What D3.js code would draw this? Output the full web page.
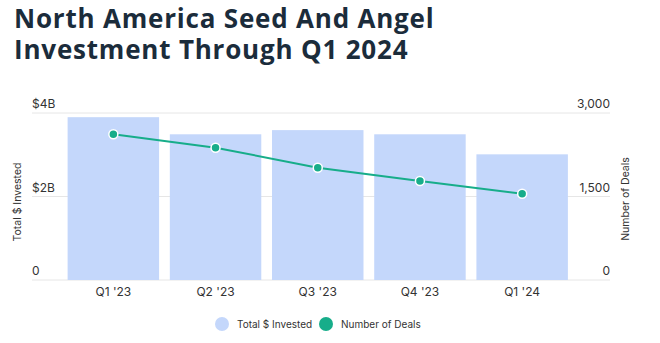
<!DOCTYPE html>
<html>
<head>
<meta charset="utf-8">
<script src="https://cdn.jsdelivr.net/npm/d3@7"></script>
<style>
  body { margin: 0; background: #fff; }
  svg { display: block; font-family: Inter, "Noto Sans", sans-serif; }
</style>
</head>
<body>
<svg id="chart"></svg>
<script>
const width = 660, height = 343;

const titleLines = ['North America Seed And Angel', 'Investment Through Q1 2024'];
const quarters = ["Q1 '23", "Q2 '23", "Q3 '23", "Q4 '23", "Q1 '24"];
const invested = [3.9, 3.49, 3.59, 3.49, 3.01]; // $B
const deals = [2617, 2377, 2018, 1778, 1550];
const leftTicks = [0, 2, 4];
const rightTicks = [0, 1500, 3000];

const barColor = '#c4d7fb', lineColor = '#17ad8a', textColor = '#333';

const svg = d3.select('#chart').attr('width', width).attr('height', height);

// Title
svg.selectAll('.title')
  .data(titleLines)
  .enter()
  .append('text')
  .attr('class', 'title')
  .attr('x', 14)
  .attr('y', (_, i) => 28 + i * 31)
  .attr('font-family', '"Open Sans", sans-serif')
  .attr('font-size', 26)
  .attr('font-weight', 700)
  .attr('letter-spacing', 0.8)
  .attr('fill', '#1b2c3b')
  .text(d => d);

const plotTop = 113, plotBottom = 280, gridLeft = 32, gridRight = 610;

const x = d3.scaleBand().domain(quarters).range([62.5, 573]).paddingInner(0.105).paddingOuter(0.05);
const yL = d3.scaleLinear().domain([0, 4]).range([plotBottom, plotTop]);
const yR = d3.scaleLinear().domain([0, 3000]).range([plotBottom, plotTop]);

// Gridlines
svg.selectAll('.grid')
  .data(leftTicks)
  .enter()
  .append('line')
  .attr('class', 'grid')
  .attr('x1', gridLeft).attr('x2', gridRight)
  .attr('y1', d => yL(d)).attr('y2', d => yL(d))
  .attr('stroke', '#e6e6e6');

// Left tick labels
svg.selectAll('.ltick')
  .data(leftTicks)
  .enter()
  .append('text')
  .attr('x', gridLeft)
  .attr('y', d => yL(d) - 5)
  .attr('font-size', 12)
  .attr('fill', textColor)
  .text(d => d === 0 ? '0' : `$${d}B`);

// Right tick labels
svg.selectAll('.rtick')
  .data(rightTicks)
  .enter()
  .append('text')
  .attr('x', gridRight)
  .attr('y', d => yR(d) - 5)
  .attr('text-anchor', 'end')
  .attr('font-size', 12)
  .attr('fill', textColor)
  .text(d => d3.format(',')(d));

// Bars
svg.selectAll('.bar')
  .data(invested)
  .enter()
  .append('rect')
  .attr('class', 'bar')
  .attr('x', (_, i) => x(quarters[i]))
  .attr('width', x.bandwidth())
  .attr('y', d => yL(d))
  .attr('height', d => plotBottom - yL(d))
  .attr('fill', barColor);

// X labels
svg.selectAll('.xlabel')
  .data(quarters)
  .enter()
  .append('text')
  .attr('x', d => x(d) + x.bandwidth() / 2)
  .attr('y', 296)
  .attr('text-anchor', 'middle')
  .attr('font-size', 12)
  .attr('fill', textColor)
  .text(d => d);

// Line
const line = d3.line()
  .x((_, i) => x(quarters[i]) + x.bandwidth() / 2)
  .y(d => yR(d));

svg.append('path')
  .datum(deals)
  .attr('d', line)
  .attr('fill', 'none')
  .attr('stroke', lineColor)
  .attr('stroke-width', 2);

svg.selectAll('.dot')
  .data(deals)
  .enter()
  .append('circle')
  .attr('cx', (_, i) => x(quarters[i]) + x.bandwidth() / 2)
  .attr('cy', d => yR(d))
  .attr('r', 4.5)
  .attr('fill', lineColor)
  .attr('stroke', '#fff')
  .attr('stroke-width', 1.5);

// Axis titles
svg.append('text')
  .attr('transform', `translate(21,202) rotate(-90)`)
  .attr('text-anchor', 'middle')
  .attr('font-size', 10.5)
  .attr('fill', textColor)
  .text('Total $ Invested');

svg.append('text')
  .attr('transform', `translate(629,199) rotate(-90)`)
  .attr('text-anchor', 'middle')
  .attr('font-size', 10.5)
  .attr('fill', textColor)
  .text('Number of Deals');

// Legend
const legend = [
  { label: 'Total $ Invested', color: barColor, cx: 222, tx: 237 },
  { label: 'Number of Deals', color: lineColor, cx: 326, tx: 341 }
];
const lg = svg.selectAll('.legend').data(legend).enter().append('g');
lg.append('circle').attr('cx', d => d.cx).attr('cy', 324).attr('r', 7).attr('fill', d => d.color);
lg.append('text').attr('x', d => d.tx).attr('y', 328).attr('font-size', 10).attr('fill', textColor).text(d => d.label);
</script>
</body>
</html>
